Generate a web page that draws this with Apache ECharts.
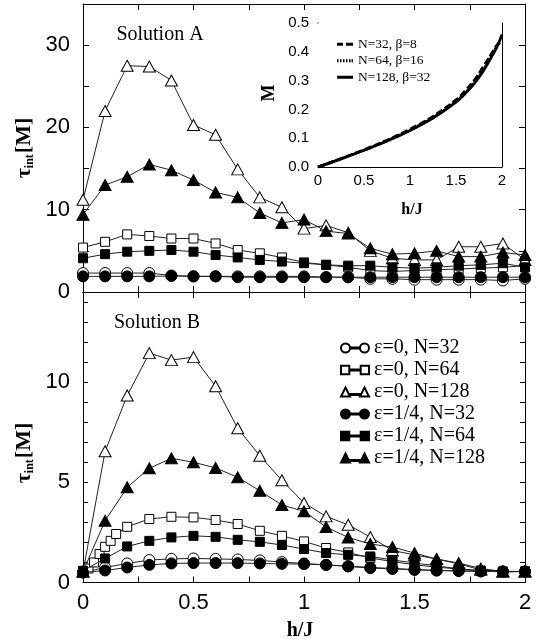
<!DOCTYPE html>
<html><head><meta charset="utf-8">
<script src="https://cdn.jsdelivr.net/npm/echarts@6/dist/echarts.min.js"></script>
<style>html,body{margin:0;padding:0;background:#fff}#c{width:538px;height:643px}</style>
</head><body><div id="c"></div><script>
// ---------- data ----------
const hJ = [0,0.1,0.2,0.3,0.4,0.5,0.6,0.7,0.8,0.9,1.0,1.1,1.2,1.3,1.4,1.5,1.6,1.7,1.8,1.9,2.0];
const hJfine = [0,0.025,0.05,0.075,0.1,0.125,0.15,0.2,0.3,0.4,0.5,0.6,0.7,0.8,0.9,1.0,1.1,1.2,1.3,1.4,1.5,1.6,1.7,1.8,1.9,2.0];
const seriesNames = ['ε=0, N=32','ε=0, N=64','ε=0, N=128','ε=1/4, N=32','ε=1/4, N=64','ε=1/4, N=128'];

// Solution A (top panel)
const A_e0_N32   = [2.3,2.3,2.3,2.3,2.0,1.9,1.9,1.9,1.9,1.9,1.9,1.8,1.8,1.6,1.6,1.5,1.5,1.5,1.5,1.4,1.6];
const A_e0_N64   = [5.4,6.1,7.0,6.8,6.5,6.5,5.9,5.1,4.7,4.2,3.6,3.3,3.0,2.6,2.5,2.6,2.7,2.8,2.9,3.0,3.2];
const A_e0_N128  = [11.2,22.0,27.5,27.4,25.7,20.3,19.1,14.9,11.5,10.3,7.7,8.1,7.2,5.0,4.1,3.9,3.9,5.5,5.5,5.9,3.9];
const A_e14_N32  = [1.9,1.9,1.9,1.9,1.95,1.9,1.9,1.8,1.8,1.8,1.8,1.8,1.8,1.8,1.8,1.8,1.8,1.8,1.8,1.8,1.8];
const A_e14_N64  = [4.1,4.6,4.9,5.0,5.1,4.9,4.5,4.2,3.9,3.7,3.5,3.3,3.2,3.2,3.0,2.9,3.0,3.2,3.3,3.5,3.0];
const A_e14_N128 = [9.4,13.0,14.0,15.5,14.8,13.6,12.1,11.5,9.6,8.4,8.8,7.4,7.1,5.3,4.6,4.7,5.0,4.3,4.3,4.8,4.5];

// Solution B (bottom panel)
const B_e0_N32   = [0.5,0.75,0.95,1.12,1.18,1.2,1.18,1.15,1.1,1.02,0.95,0.88,0.82,0.75,0.7,0.65,0.6,0.58,0.55,0.55,0.55];
const B_e0_N64   = [0.58,0.7,1.0,1.42,1.78,2.08,2.42,2.78,3.17,3.28,3.25,3.12,2.92,2.58,2.33,2.05,1.72,1.5,1.22,1.05,0.88,0.77,0.67,0.58,0.55,0.55];
const B_e0_N128  = [0.53,6.55,9.33,11.45,11.1,11.25,9.8,7.7,6.33,5.1,3.97,3.3,2.88,2.27,1.6,1.38,1.17,0.93,0.63,0.55,0.55];
const B_e14_N32  = [0.5,0.6,0.75,0.88,0.95,0.97,0.97,0.97,0.95,0.93,0.92,0.88,0.8,0.72,0.68,0.63,0.6,0.58,0.56,0.55,0.55];
const B_e14_N64  = [0.58,1.2,1.8,2.08,2.25,2.33,2.28,2.13,2.03,1.87,1.67,1.47,1.38,1.3,1.13,0.97,0.83,0.68,0.6,0.52,0.55];
const B_e14_N128 = [0.55,3.08,4.75,5.7,6.2,6.0,5.72,5.25,4.58,3.87,3.55,2.77,2.25,1.92,1.77,1.47,1.17,0.97,0.7,0.55,0.55];

// Inset: magnetization
const insetNames = ['N=32, β=8','N=64, β=16','N=128, β=32'];
const hM = [0,0.25,0.5,0.75,1.0,1.25,1.5,1.6,1.7,1.8,1.9,1.95,2.0];
const M_N32  = [0,0.029,0.060,0.093,0.131,0.176,0.233,0.265,0.302,0.350,0.400,0.425,0.435];
const M_N64  = [0,0.028,0.058,0.091,0.128,0.172,0.228,0.258,0.295,0.340,0.395,0.425,0.450];
const M_N128 = [0,0.028,0.058,0.090,0.127,0.170,0.225,0.255,0.290,0.335,0.390,0.420,0.460];

// tick labels
const mainXLabels = [0,0.5,1,1.5,2];
const topYLabels = [0,10,20,30];
const botYLabels = [0,5,10];
const insetXLabels = [0,0.5,1,1.5,2];
const insetYLabels = [0,0.1,0.2,0.3,0.4,0.5];

// ---------- chart ----------
const SANS = 'Liberation Sans';
const SERIF = 'Liberation Serif';
const near = (v, arr) => arr.some(a => Math.abs(a - v) < 1e-6);
const pairs = (xs, ys) => xs.map((x, i) => [x, ys[i]]);

function axis(grid, pos, o) {
  return {
    type: 'value', gridIndex: grid, position: pos,
    min: o.min, max: o.max, interval: o.interval,
    axisLine: {show: true, onZero: false, lineStyle: {color: '#000', width: 1}},
    axisTick: {show: true, inside: true, length: o.tick || 6, lineStyle: {color: '#000', width: 1}},
    splitLine: {show: false},
    axisLabel: {
      show: !!o.labels, margin: o.margin || 8, color: '#000',
      fontFamily: SANS, fontSize: o.fontSize || 22,
      formatter: v => (o.labels && near(v, o.labels)) ? (o.fmt ? o.fmt(v) : String(v)) : ''
    }
  };
}

const xAxes = [
  axis(0, 'bottom', {min: 0, max: 2, interval: 0.25}),
  axis(0, 'top', {min: 0, max: 2, interval: 0.25}),
  axis(1, 'bottom', {min: 0, max: 2, interval: 0.25, labels: mainXLabels, margin: 9}),
  axis(1, 'top', {min: 0, max: 2, interval: 0.25}),
  axis(2, 'bottom', {min: 0, max: 2, interval: 0.25, labels: insetXLabels, margin: 6, fontSize: 15, tick: 4}),
  axis(2, 'top', {min: 0, max: 2, interval: 0.25, tick: 4})
];
const yAxes = [
  axis(0, 'left', {min: 0, max: 35, interval: 5, labels: topYLabels, margin: 13}),
  axis(0, 'right', {min: 0, max: 35, interval: 5}),
  axis(1, 'left', {min: 0, max: 14.5, interval: 1, labels: botYLabels, margin: 13, tick: 5}),
  axis(1, 'right', {min: 0, max: 14.5, interval: 1, tick: 5}),
  axis(2, 'left', {min: 0, max: 0.5, interval: 0.05, labels: insetYLabels, margin: 9, fontSize: 15, tick: 4, fmt: v => v.toFixed(1)}),
  axis(2, 'right', {min: 0, max: 0.5, interval: 0.05, tick: 4})
];

const styles = [
  {symbol: 'circle', size: 11, filled: false},
  {symbol: 'rect', size: 9, filled: false},
  {symbol: 'triangle', size: [12, 11], filled: false},
  {symbol: 'circle', size: 11, filled: true},
  {symbol: 'rect', size: 9, filled: true},
  {symbol: 'triangle', size: [12, 11], filled: true}
];

function mk(idx, xs, ys, panel) {
  const st = styles[idx];
  return {
    type: 'line', name: seriesNames[idx],
    xAxisIndex: panel === 0 ? 0 : 2, yAxisIndex: panel === 0 ? 0 : 2,
    data: pairs(xs, ys),
    symbol: st.symbol, symbolSize: st.size, showSymbol: true,
    lineStyle: {color: '#222', width: 1},
    itemStyle: st.filled ? {color: '#000', borderColor: '#000', borderWidth: 1}
                         : {color: '#fff', borderColor: '#000', borderWidth: 1},
    emphasis: {disabled: true}, z: st.filled ? 3 : 2
  };
}

const series = [
  mk(0, hJ, A_e0_N32, 0), mk(1, hJ, A_e0_N64, 0), mk(2, hJ, A_e0_N128, 0),
  mk(3, hJ, A_e14_N32, 0), mk(4, hJ, A_e14_N64, 0), mk(5, hJ, A_e14_N128, 0),
  mk(0, hJ, B_e0_N32, 1), mk(1, hJfine, B_e0_N64, 1), mk(2, hJ, B_e0_N128, 1),
  mk(3, hJ, B_e14_N32, 1), mk(4, hJ, B_e14_N64, 1), mk(5, hJ, B_e14_N128, 1)
];

const insetData = [M_N32, M_N64, M_N128];
const insetDash = [[7, 3], [1.5, 1.5], 'solid'];
insetData.forEach((arr, i) => {
  series.push({
    type: 'line', name: insetNames[i], xAxisIndex: 4, yAxisIndex: 4,
    data: pairs(hM, arr), smooth: 0.4, symbol: 'none', showSymbol: false,
    lineStyle: {color: '#000', width: 2.8, type: insetDash[i]},
    itemStyle: {color: '#000'}, emphasis: {disabled: true}, z: 5
  });
});

const icons = [
  'path://M0,4.5a4.5,4.5 0 1,0 9,0a4.5,4.5 0 1,0 -9,0ZM9,4H19V5H9ZM19,4.5a4.5,4.5 0 1,0 9,0a4.5,4.5 0 1,0 -9,0Z',
  'path://M0.5,0.5H8.5V8.5H0.5ZM8.5,4H19.5V5H8.5ZM19.5,0.5H27.5V8.5H19.5Z',
  'path://M4.5,0L9,9H0ZM9,6.5H19V7.5H9ZM23.5,0L28,9H19Z'
];
const legendData = seriesNames.map((n, i) => ({name: n, icon: icons[i % 3]}));

const insetIcons = [
  'path://M0,0H6V3H0ZM9,0H16V3H9Z',
  'path://M0,0H1.5V3H0ZM3,0H4.5V3H3ZM6,0H7.5V3H6ZM9,0H10.5V3H9ZM12,0H13.5V3H12ZM14.5,0H16V3H14.5Z',
  'path://M0,0H16V3H0Z'
];
const insetLegendData = insetNames.map((n, i) => ({name: n, icon: insetIcons[i]}));

const yTitle = (y) => ({
  type: 'text', x: 24, y: y, rotation: Math.PI / 2,
  style: {
    text: '{t|τ}{s|int}{t|[M]}',
    rich: {
      t: {fontSize: 22, fontFamily: SERIF, fontWeight: 'bold', fill: '#000'},
      s: {fontSize: 12, fontFamily: SERIF, fontWeight: 'bold', fill: '#000', padding: [11, 1, 0, 0]}
    },
    align: 'center', verticalAlign: 'middle', textAlign: 'center', textVerticalAlign: 'middle'
  }
});
const label = (x, y, text, size, bold, rot) => ({
  type: 'text', x: x, y: y, rotation: rot || 0,
  style: {text: text, fontSize: size, fontFamily: SERIF, fontWeight: bold ? 'bold' : 'normal', fill: '#000',
          align: 'center', verticalAlign: 'middle', textAlign: 'center', textVerticalAlign: 'middle'}
});

const option = {
  animation: false,
  backgroundColor: '#fff',
  grid: [
    {left: 83, top: 4, width: 442, height: 288},
    {left: 83, top: 292, width: 442, height: 290.5},
    {left: 318, top: 23, width: 184, height: 144, show: true, backgroundColor: '#fff', borderWidth: 0, z: 4}
  ],
  xAxis: xAxes,
  yAxis: yAxes,
  legend: [
    {
      data: legendData, orient: 'vertical', left: 335, top: 332,
      itemWidth: 28, itemHeight: 9, itemGap: 0, itemTextGap: 3, selectedMode: false,
      textStyle: {fontFamily: SERIF, fontSize: 20, lineHeight: 22, color: '#000'}
    },
    {
      data: insetLegendData, orient: 'vertical', left: 332, top: 31,
      itemWidth: 16, itemHeight: 3, itemGap: 0, itemTextGap: 4, selectedMode: false,
      textStyle: {fontFamily: SERIF, fontSize: 13.5, lineHeight: 16.5, color: '#000'}
    }
  ],
  graphic: [
    yTitle(148), yTitle(453),
    label(160, 35, 'Solution A', 20, false),
    label(157, 323, 'Solution B', 20, false),
    label(300, 631, 'h/J', 20, true),
    label(412, 210, 'h/J', 16, true),
    label(269, 93, 'M', 18, true, Math.PI / 2)
  ],
  series: series
};

echarts.init(document.getElementById('c'), null, {renderer: 'canvas'}).setOption(option);
</script></body></html>
